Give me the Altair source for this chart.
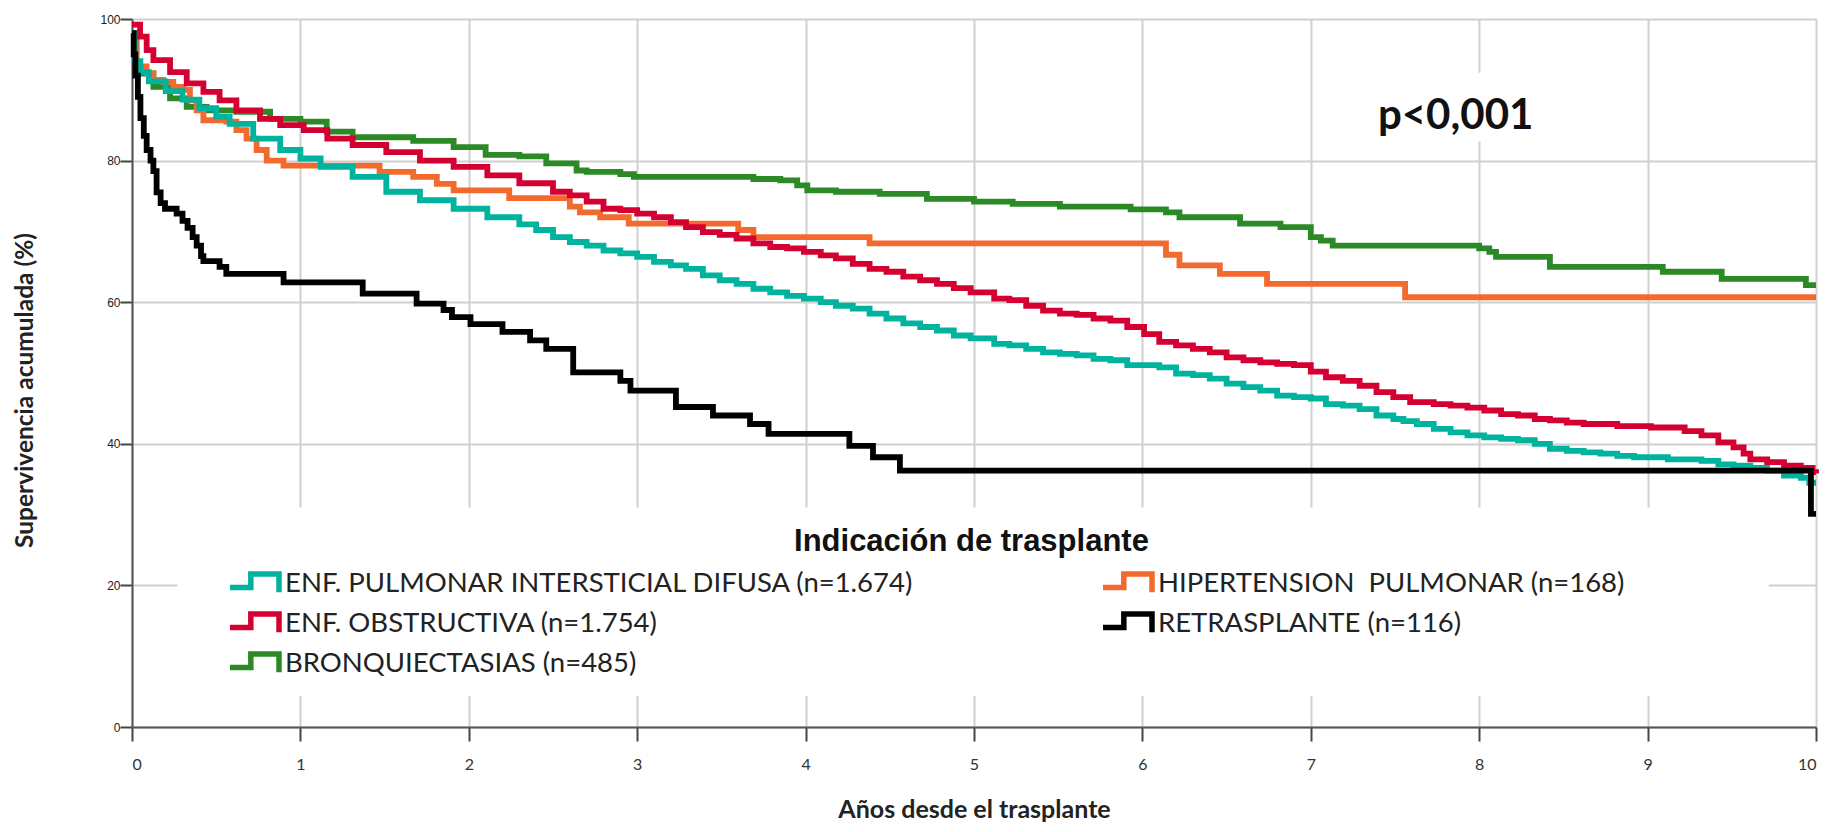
import altair as alt
import pandas as pd

# ---------------- data ----------------
SERIES = [
    "ENF. PULMONAR INTERSTICIAL DIFUSA (n=1.674)",
    "ENF. OBSTRUCTIVA (n=1.754)",
    "BRONQUIECTASIAS (n=485)",
    "HIPERTENSION\u00a0 PULMONAR (n=168)",
    "RETRASPLANTE (n=116)",
]
COLORS = ["#00B39F", "#D50032", "#2B8A26", "#F26A2E", "#000000"]

teal_t = [0, 0.02, 0.05, 0.1, 0.2, 0.3, 0.4, 0.5, 0.58, 0.72, 0.88, 1.0, 1.12, 1.31, 1.51, 1.71, 1.91,
          2.11, 2.3, 2.4, 2.5, 2.6, 2.7, 2.8, 2.9, 3.0, 3.1, 3.2, 3.29, 3.39, 3.49, 3.59, 3.69, 3.79,
          3.89, 3.99, 4.09, 4.18, 4.28, 4.38, 4.48, 4.58, 4.68, 4.78, 4.88, 4.98, 5.12, 5.21, 5.31,
          5.41, 5.51, 5.61, 5.71, 5.81, 5.91, 6.1, 6.2, 6.3, 6.4, 6.5, 6.6, 6.7, 6.8, 6.9, 7.0, 7.09,
          7.19, 7.29, 7.39, 7.49, 7.55, 7.63, 7.73, 7.83, 7.93, 8.03, 8.13, 8.23, 8.33, 8.42, 8.52,
          8.62, 8.72, 8.82, 8.92, 9.12, 9.32, 9.42, 9.51, 9.61, 9.71, 9.81, 9.91, 9.96, 10.0]
teal_s = [98, 94, 92.5, 91.2, 89.8, 88.6, 87.4, 86.2, 85.2, 83.1, 81.5, 80.3, 79.1, 77.7, 75.6, 74.4,
          73.2, 72.0, 71.0, 70.2, 69.2, 68.5, 68.0, 67.3, 66.9, 66.4, 65.7, 65.2, 64.7, 63.8, 63.1,
          62.6, 61.9, 61.4, 60.9, 60.5, 60.0, 59.5, 59.1, 58.4, 57.7, 57.0, 56.5, 56.0, 55.3, 54.9,
          54.1, 53.9, 53.4, 52.9, 52.7, 52.5, 52.0, 51.8, 51.1, 50.8, 49.9, 49.7, 49.2, 48.5, 48.0,
          47.5, 46.8, 46.6, 46.4, 45.6, 45.4, 44.9, 44.0, 43.5, 43.2, 42.8, 42.1, 41.6, 41.2, 40.9,
          40.7, 40.5, 40.0, 39.3, 39.0, 38.8, 38.6, 38.3, 38.1, 37.8, 37.6, 37.1, 36.9, 36.6, 36.2,
          35.5, 35.2, 34.5, 34.5]

red_t = [0, 0.048, 0.087, 0.127, 0.226, 0.325, 0.424, 0.52, 0.62, 0.76, 0.88, 1.02, 1.16, 1.31, 1.51,
         1.71, 1.91, 2.11, 2.3, 2.5, 2.6, 2.7, 2.8, 2.9, 3.0, 3.1, 3.2, 3.29, 3.39, 3.49, 3.59, 3.69,
         3.79, 3.89, 3.99, 4.09, 4.18, 4.28, 4.38, 4.48, 4.58, 4.68, 4.78, 4.88, 4.98, 5.12, 5.21,
         5.31, 5.41, 5.51, 5.61, 5.71, 5.81, 5.91, 6.01, 6.1, 6.2, 6.3, 6.4, 6.5, 6.6, 6.7, 6.8, 6.9,
         7.0, 7.09, 7.19, 7.29, 7.39, 7.49, 7.59, 7.73, 7.83, 7.93, 8.03, 8.13, 8.23, 8.33, 8.42,
         8.52, 8.62, 8.82, 9.02, 9.22, 9.32, 9.42, 9.51, 9.57, 9.61, 9.71, 9.81, 9.91, 9.98, 10.0]
red_s = [99.2, 97.5, 95.6, 94.2, 92.5, 90.9, 89.7, 88.5, 87.1, 85.9, 85.0, 84.3, 83.1, 82.2, 81.2,
         80.0, 79.1, 77.9, 76.8, 75.6, 75.1, 74.2, 73.2, 73.0, 72.5, 72.0, 71.3, 70.6, 69.9, 69.5,
         69.0, 68.3, 67.8, 67.6, 67.1, 66.6, 66.2, 65.4, 64.7, 64.3, 63.6, 63.1, 62.6, 62.0, 61.4,
         60.5, 60.3, 59.5, 58.8, 58.4, 58.2, 57.7, 57.4, 56.5, 55.5, 54.4, 53.9, 53.4, 52.9, 52.2,
         51.8, 51.5, 51.3, 51.1, 50.2, 49.4, 48.9, 48.2, 47.3, 46.6, 45.9, 45.6, 45.4, 45.1, 44.7,
         44.2, 44.0, 43.5, 43.3, 43.0, 42.8, 42.5, 42.3, 41.8, 41.2, 40.2, 39.5, 38.6, 37.8, 37.4,
         36.9, 36.6, 36.0, 35.8]

green_t = [0, 0.02, 0.048, 0.127, 0.226, 0.325, 0.443, 0.62, 0.82, 1.0, 1.156, 1.31, 1.67, 1.91, 2.1,
           2.3, 2.46, 2.64, 2.7, 2.9, 2.98, 3.69, 3.85, 3.95, 4.01, 4.18, 4.44, 4.72, 5.0, 5.23,
           5.51, 5.93, 6.14, 6.22, 6.58, 6.82, 7.0, 7.06, 7.13, 8.0, 8.06, 8.1, 8.42, 9.09, 9.44,
           9.94, 10.0]
green_s = [97.5, 94, 92.3, 90.4, 88.8, 87.6, 87.1, 86.9, 85.9, 85.5, 84.1, 83.3, 82.8, 81.9, 80.8,
           80.6, 79.6, 78.6, 78.4, 78.1, 77.7, 77.4, 77.2, 76.5, 75.8, 75.6, 75.3, 74.6, 74.2, 73.9,
           73.5, 73.1, 72.7, 72.0, 71.1, 70.6, 69.2, 68.7, 68.0, 67.6, 67.1, 66.4, 65.0, 64.3, 63.3,
           62.4, 62.4]

orange_t = [0, 0.028, 0.087, 0.127, 0.186, 0.245, 0.305, 0.344, 0.384, 0.424, 0.56, 0.62, 0.68, 0.74,
            0.8, 0.9, 1.47, 1.67, 1.81, 1.91, 2.24, 2.6, 2.66, 2.78, 2.95, 3.6, 3.69, 4.38, 6.14,
            6.22, 6.46, 6.74, 7.56, 10.0]
orange_s = [98, 93.3, 92.3, 91.4, 91.1, 90.4, 90.0, 88.5, 87.1, 85.7, 85.5, 84.3, 83.1, 81.5, 80.0,
            79.3, 78.4, 77.7, 76.7, 75.8, 74.7, 73.5, 72.7, 72.0, 71.1, 70.2, 69.2, 68.3, 66.7, 65.2,
            64.0, 62.6, 60.7, 60.7]

black_t = [0, 0.01, 0.02, 0.035, 0.05, 0.07, 0.087, 0.11, 0.127, 0.146, 0.17, 0.196, 0.265, 0.3, 0.33,
           0.36, 0.384, 0.41, 0.424, 0.52, 0.56, 0.9, 1.37, 1.69, 1.85, 1.9, 2.01, 2.2, 2.364, 2.46,
           2.62, 2.9, 2.96, 3.23, 3.45, 3.67, 3.78, 4.26, 4.4, 4.56, 9.97, 10.0]
black_s = [98, 95, 92, 89, 86, 83.5, 81.5, 80, 78.5, 75.5, 74, 73.2, 72.5, 71.5, 70.5, 69.2, 68, 66.5,
           65.8, 65, 64, 62.8, 61.2, 59.8, 58.9, 57.9, 56.9, 55.8, 54.6, 53.4, 50.1, 48.9, 47.5, 45.2,
           44.0, 42.8, 41.4, 39.7, 38.1, 36.2, 30.1, 30.1]

P_TEXT = "p<0,001"
P_POS = (7.86, 86.3)
P_BOX = (7.35, 8.36, 82.7, 92.4)
LEGEND_TITLE = "Indicación de trasplante"
LEGEND_TITLE_POS = (4.985, 26.1)
LEGEND_BOX = (0.27, 9.72, 4.4, 31.0)

# ---------------- build table ----------------
rows = []
# drawing order: green, orange, teal, red, black (black on top)
for name, ts, ss in [(SERIES[2], green_t, green_s), (SERIES[3], orange_t, orange_s),
                     (SERIES[0], teal_t, teal_s), (SERIES[1], red_t, red_s),
                     (SERIES[4], black_t, black_s)]:
    for t, s in zip(ts, ss):
        rows.append({"serie": name, "t": t, "s": s})
df = pd.DataFrame(rows)

boxes = pd.DataFrame([
    {"x": P_BOX[0], "x2": P_BOX[1], "y": P_BOX[2], "y2": P_BOX[3]},
    {"x": LEGEND_BOX[0], "x2": LEGEND_BOX[1], "y": LEGEND_BOX[2], "y2": LEGEND_BOX[3]},
])
ptext = pd.DataFrame([{"x": P_POS[0], "y": P_POS[1], "label": P_TEXT}])
ltitle = pd.DataFrame([{"x": LEGEND_TITLE_POS[0], "y": LEGEND_TITLE_POS[1], "label": LEGEND_TITLE}])

xscale = alt.Scale(domain=[0, 10], nice=False)
yscale = alt.Scale(domain=[0, 100], nice=False)

rect = alt.Chart(boxes).mark_rect(color="white").encode(
    x=alt.X("x:Q", scale=xscale), x2="x2:Q",
    y=alt.Y("y:Q", scale=yscale), y2="y2:Q",
)

lines = alt.Chart(df).mark_line(interpolate="step-after", strokeWidth=5.8).encode(
    x=alt.X("t:Q", scale=xscale,
            axis=alt.Axis(title="Años desde el trasplante", values=list(range(11)),
                          format="d", labelFont="Lato", labelFontSize=16, labelColor="#333",
                          labelPadding=15, tickSize=14, tickWidth=2, tickColor="#444",
                          domainColor="#555", domainWidth=2,
                          grid=True, gridColor="#cfcfcf", gridWidth=2,
                          titleFont="Lato", titleFontSize=25, titleFontWeight="bold",
                          titleColor="#222", titleY=82, titleBaseline="middle")),
    y=alt.Y("s:Q", scale=yscale,
            axis=alt.Axis(title="Supervivencia acumulada (%)", values=[0, 20, 40, 60, 80, 100],
                          labelFont="Liberation Sans", labelFontSize=12, labelColor="#222",
                          labelPadding=0, tickSize=12, tickWidth=2, tickColor="#444",
                          domainColor="#555", domainWidth=2,
                          grid=True, gridColor="#cfcfcf", gridWidth=2,
                          titleFont="Lato", titleFontSize=24.5, titleFontWeight="bold",
                          titleColor="#222", titleX=-107, titleY=371, titleAngle=270,
                          titleBaseline="middle")),
    color=alt.Color("serie:N",
                    scale=alt.Scale(domain=SERIES, range=COLORS),
                    legend=alt.Legend(
                        title=None, orient="none",
                        legendX=95, legendY=545, columns=2, direction="vertical",
                        symbolType="M-1,0.14H-0.15V-0.41H1V0.34",
                        symbolSize=2401, symbolStrokeWidth=5.5,
                        symbolFillColor="transparent",
                        clipHeight=40, rowPadding=0, columnPadding=185,
                        labelFont="Lato", labelFontSize=27.5, labelColor="#222",
                        labelOffset=3, labelLimit=2000, padding=0,
                    )),
    detail="serie:N",
)

ptxt = alt.Chart(ptext).mark_text(font="Lato", fontSize=42, fontWeight="bold",
                                   color="#111", align="center", baseline="middle").encode(
    x=alt.X("x:Q", scale=xscale), y=alt.Y("y:Q", scale=yscale), text="label:N")

ltxt = alt.Chart(ltitle).mark_text(font="Liberation Sans", fontSize=31, fontWeight="bold",
                                    color="#111", align="center", baseline="middle").encode(
    x=alt.X("x:Q", scale=xscale), y=alt.Y("y:Q", scale=yscale), text="label:N")

chart = alt.layer(rect, lines, ptxt, ltxt).properties(
    width=1684, height=708,
    autosize=alt.AutoSizeParams(type="none"),
    padding={"left": 124, "top": 11, "right": 6, "bottom": 97},
).configure_view(stroke="transparent").configure(background="white")

chart.save("out.html", embed_options={"renderer": "svg", "actions": False})
